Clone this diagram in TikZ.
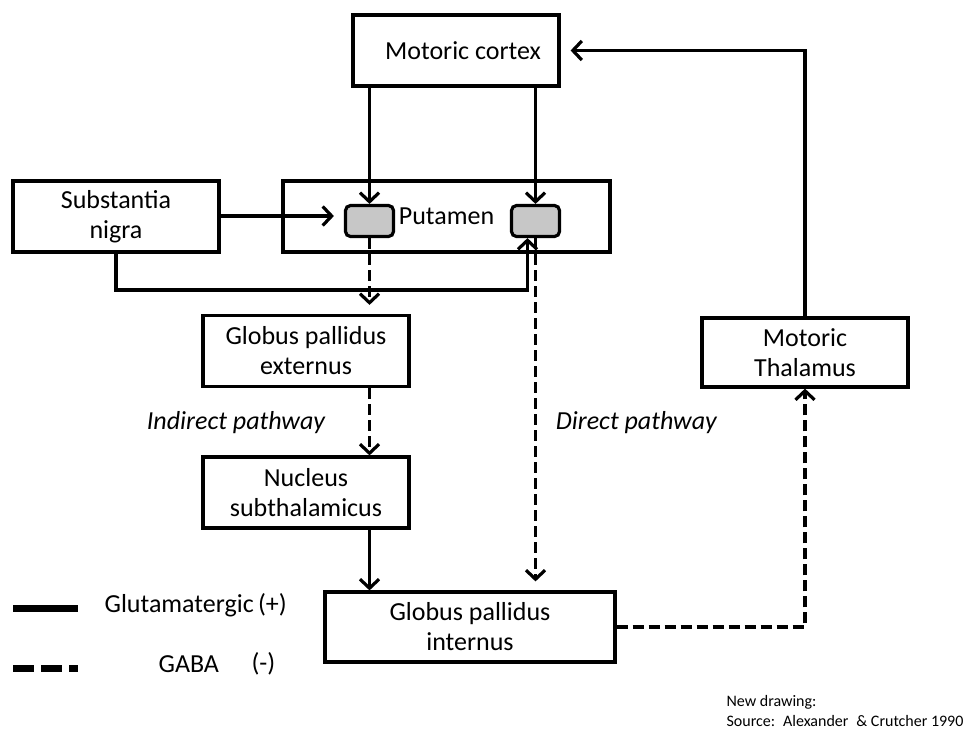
\documentclass[tikz,border=0pt]{standalone}
\usepackage{fontspec}
\setmainfont{Carlito}
\usetikzlibrary{arrows.meta}

\begin{document}
\begin{tikzpicture}[x=1pt,y=-1pt,line width=3.2pt,
	font=\fontsize{26}{30}\selectfont,
	box/.style={draw, align=center, inner sep=0pt, minimum width=#1, minimum height=71pt},
	cell/.style={draw, fill=black!22, rounded corners=5pt, minimum width=48pt, minimum height=31pt, inner sep=0pt},
	glu/.style={-{Straight Barb[length=9pt,width=19pt,line width=3.2pt]}},
	gaba/.style={glu, dash pattern=on 11pt off 5pt}
]
\useasboundingbox (0,0) rectangle (973,734);

\node [box=206pt] (ctx) at (456,50.5) {\hspace*{14pt}Motoric cortex};
\node [box=206pt] (sn) at (116,216.5) {Substantia\\nigra};
\node [box=327pt] (put) at (446.5,216.5) {Putamen};
\node [cell] (gl) at (369.5,221) {};
\node [cell] (gr) at (535.5,221) {};
\node [box=206pt] (gpe) at (306,351) {Globus pallidus\\externus};
\node [box=206pt] (nst) at (306,492.5) {Nucleus\\subthalamicus};
\node [box=290pt, minimum height=70pt] (gpi) at (470,627) {Globus pallidus\\internus};
\node [box=206pt, minimum height=69pt] (thal) at (805,352.5) {Motoric\\Thalamus};

% glutamatergic
\draw [glu] (ctx.south -| gl.north) -- (gl.north);
\draw [glu] (ctx.south -| gr.north) -- (gr.north);
\draw [glu, shorten >=10pt] (sn.east |- 0,216) -- (gl.west |- 0,216);
\coordinate (jn) at ([xshift=-8pt]gr.south |- 0,290);
\draw [glu] (sn.south) |- (jn) -- ([xshift=-8pt]gr.south);
\draw [glu] (nst.south -| gl.south) -- (gpi.north -| gl.south);
\draw [glu, shorten >=10pt] (thal.north) |- (ctx.east);

% GABA
\draw [gaba, shorten >=9pt] (gl.south) -- (gl.south |- gpe.north);
\draw [gaba, shorten >=9pt] (gr.south) -- (gr.south |- gpi.north);
\draw [gaba] (gpe.south -| gl.south) -- (nst.north -| gl.south);
\draw [gaba] (gpi.east) -| (thal.south);

\node [anchor=east, font=\fontsize{26}{30}\itshape] (ind) at (330,423) {Indirect pathway};
\node [anchor=west, font=\fontsize{26}{30}\itshape] (dir) at (551,423) {Direct pathway};

% legend
\coordinate (l1) at (13,608);
\coordinate (l2) at (78,608);
\coordinate (l3) at (13,668);
\coordinate (l4) at (78,668);
\draw [line width=7pt] (l1) -- (l2);
\draw [line width=7pt, dash pattern=on 21pt off 7pt] (l3) -- (l4);
\node [anchor=west, inner sep=0pt] (glut) at (103,605) {Glutamatergic\,(+)};
\node [anchor=west, inner sep=0pt] (gaba) at (157,664) {GABA};
\node [anchor=west, inner sep=0pt] (neg) at (250,664) {(-)};

\node [anchor=west, inner sep=0pt, font=\fontsize{16}{18}\selectfont] (new) at (725,702) {New drawing:};
\node [anchor=west, inner sep=0pt, font=\fontsize{16}{18}\selectfont] (src) at (725,721) {Source:\enspace Alexander\enspace \& Crutcher 1990};
\end{tikzpicture}
\end{document}
